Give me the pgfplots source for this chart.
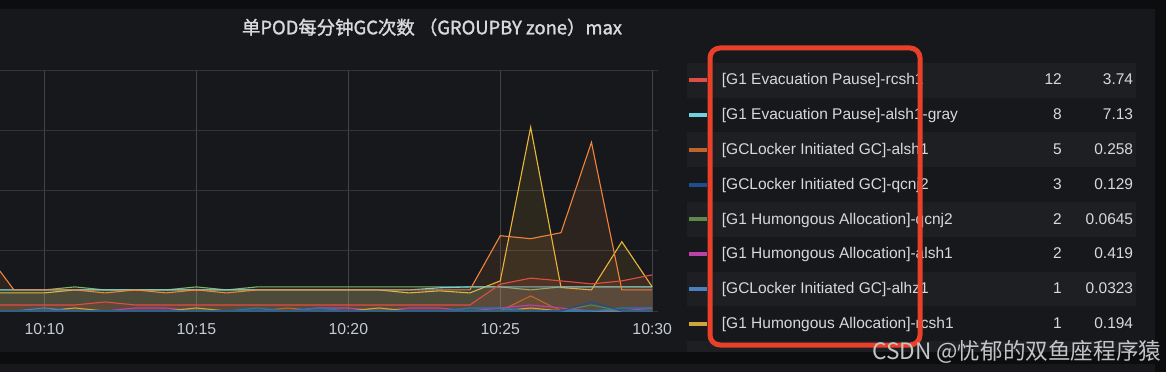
\documentclass[border=0pt]{standalone}
\usepackage{fontspec}
\setmainfont{Liberation Sans}
\newfontfamily\cjk{Noto Sans CJK SC}
\newfontfamily\cjkt{Noto Sans CJK SC}[FakeBold=1.5]
\usepackage{pgfplots}
\usepackage{pgfplotstable}
\pgfplotsset{compat=1.18}
\definecolor{pagebg}{RGB}{12,13,15}
\definecolor{panelbg}{RGB}{23,24,28}
\definecolor{bandbg}{RGB}{30,31,35}
\definecolor{hgrid}{RGB}{50,52,56}
\definecolor{vgrid}{RGB}{66,68,72}
\definecolor{txt}{RGB}{216,217,218}
\definecolor{tickc}{RGB}{199,204,210}
\definecolor{frame}{RGB}{233,64,42}
\definecolor{wm}{RGB}{196,196,198}
\definecolor{cRed}{HTML}{E24D42}
\definecolor{cCyan}{HTML}{6ED0E0}
\definecolor{cDOrange}{HTML}{C0652A}
\definecolor{cDBlue}{HTML}{1F4E8F}
\definecolor{cGDark}{HTML}{5D8A4A}
\definecolor{cMagenta}{HTML}{BA43A9}
\definecolor{cBlue}{HTML}{4A7FC0}
\definecolor{cYDark}{HTML}{CCA63A}
\definecolor{cGLight}{HTML}{7EB26D}
\definecolor{cYellow}{HTML}{EAB839}
\definecolor{cOrange}{HTML}{EF843C}
\definecolor{cBlue2}{HTML}{1F78C1}
\pgfplotstableread{
m  red  cyan dorange dblue gdark magenta blue ydark glight yellow orange blue2
8  2    7    0 0 0 0 0 0 7 6    20.5 0
9  2    7    0 0 0 0 0 0 7 6    7    0
10 2    7    0 0 0 0 1 0 7 6    7    0
11 2    7    0 0 0 0 0 1 8 7    7    0
12 3    7    0 0 0 0 0 0 7 7    6    0
13 2    7    0 0 0 1 0 0 7 7    7    0
14 2    7    0 0 0 1 0 0 7 7    6    0
15 2    7    0 0 0 0 0 1 8 7    7    0
16 2    7    0 0 0 0 0 0 7 7    6    0
17 2    7    0 0 0 0 0 0 8 7    7    1
18 2    7    1 0 0 0 0 0 8 7    7    0
19 2    7    0 0 0 1 0 0 8 7    7    1
20 2    7    0 0 0 1 0 0 8 7    7    0
21 2    7    0 0 0 0 0 1 8 7    7    0
22 2    7    0 0 0 1 0 0 8 6    7    0
23 2    7.7  0 0 0 1 0 0 8 6.7  7    0
24 2    8    0 0 0 0 0 0 8 6    7    1
25 8.9  8    0 0 0 1 0 0 8 10   25   1
26 10.9 8    5 0 0 2 0 1 7 61   24   0
27 10   8    0 0 0 1 0 0 8 7.8  26   0
28 9    8    0 3 2 0 0 0 8 7    56   0
29 10   8    0 0 0 0 0 0 8 23   7    1
30 12   8    0 0 0 1 0 0 8 8    7    1
}\data
\newcommand{\series}[2]{%
  \addplot[draw=none, fill=#2, fill opacity=0.1, forget plot] table[x=m,y=#1]{\data} \closedcycle;
  \addplot[#2, line width=1.1pt, mark=none] table[x=m,y=#1]{\data};
}
\begin{document}
\begin{tikzpicture}[x=1pt,y=1pt]
\useasboundingbox (0,0) rectangle (1166,372);
\fill[pagebg] (0,0) rectangle (1166,372);
\fill[panelbg] (0,20) rectangle (1155,362.5);
\fill[panelbg] (0,0) rectangle (1155,8);
% legend bands
\foreach \c in {0,2,4,6} {\fill[bandbg] (687,{372-80.3-34.77*\c-17.4}) rectangle (1136,{372-80.3-34.77*\c+17.4});}
\fill[bandbg] (687,20) rectangle (1136,31.4);
\begin{axis}[
  at={(0pt,61pt)}, anchor=south west, scale only axis,
  width=658pt, height=241pt,
  xmin=8.54, xmax=30.19, ymin=0, ymax=80,
  axis line style={draw=none}, tick style={draw=none}, major tick length=0pt,
  xtick={10,15,20,25,30}, xticklabels={10:10,10:15,10:20,10:25,10:30},
  ytick={0,20,40,60,80}, yticklabels={},
  xmajorgrids, ymajorgrids,
  x grid style={color=vgrid, line width=1pt},
  y grid style={color=hgrid, line width=1pt},
  xticklabel style={font=\fontsize{15.8}{18}\selectfont, text=tickc, anchor=base, yshift=-23.3pt, inner sep=0pt},
]
\series{glight}{cGLight}
\series{yellow}{cYellow}
\series{cyan}{cCyan}
\series{orange}{cOrange}
\series{red}{cRed}
\series{dorange}{cDOrange}
\series{magenta}{cMagenta}
\series{ydark}{cYDark}
\series{blue}{cBlue}
\series{blue2}{cBlue2}
\series{gdark}{cGDark}
\series{dblue}{cDBlue}
\end{axis}
% title
\node[font=\cjkt\fontsize{18.4}{20}\selectfont, text=txt, anchor=base, inner sep=0] at (432,337.7) {单POD每分钟GC次数 （GROUPBY zone）max};
% legend
\def\rowA#1#2#3#4#5{%
  \fill[#2] (689,{372-80.3-34.77*#1-2}) rectangle (707,{372-80.3-34.77*#1+2});
  \node[anchor=base west, inner sep=0, font=\fontsize{15.5}{18}\selectfont, text=txt] at (721.7,{372-85-34.77*#1}) {#3};
  \node[anchor=base east, inner sep=0, font=\fontsize{15.5}{18}\selectfont, text=txt] at (1062,{372-85-34.77*#1}) {#4};
  \node[anchor=base east, inner sep=0, font=\fontsize{15.5}{18}\selectfont, text=txt] at (1133.3,{372-85-34.77*#1}) {#5};
}
\rowA{0}{cRed}{{[G1 Evacuation Pause]-rcsh1}}{12}{3.74}
\rowA{1}{cCyan}{{[G1 Evacuation Pause]-alsh1-gray}}{8}{7.13}
\rowA{2}{cDOrange}{{[GCLocker Initiated GC]-alsh1}}{5}{0.258}
\rowA{3}{cDBlue}{{[GCLocker Initiated GC]-qcnj2}}{3}{0.129}
\rowA{4}{cGDark}{{[G1 Humongous Allocation]-qcnj2}}{2}{0.0645}
\rowA{5}{cMagenta}{{[G1 Humongous Allocation]-alsh1}}{2}{0.419}
\rowA{6}{cBlue}{{[GCLocker Initiated GC]-alhz1}}{1}{0.0323}
\rowA{7}{cYDark}{{[G1 Humongous Allocation]-rcsh1}}{1}{0.194}
% annotation frame
\draw[frame, line width=5pt, rounded corners=10pt] (710,{372-48}) rectangle (920,{372-345});
% watermark
\node[anchor=base west, inner sep=0, font=\cjk\fontsize{22.6}{24}\selectfont, text=wm] at (872,12.7) {CSDN @忧郁的双鱼座程序猿};
\end{tikzpicture}
\end{document}
